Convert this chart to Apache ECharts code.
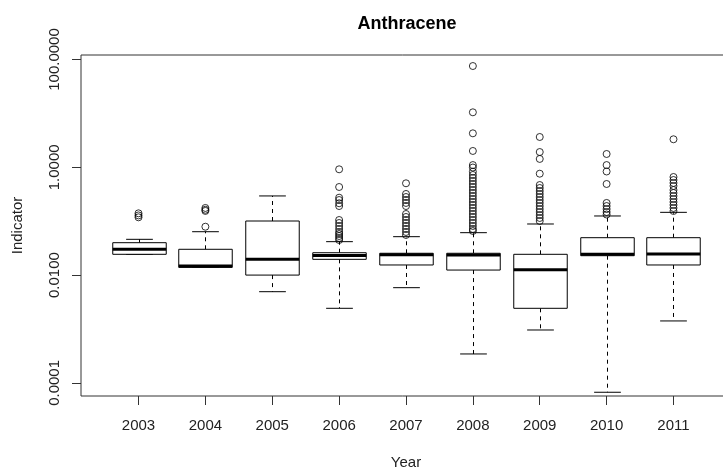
<!DOCTYPE html>
<html>
<head>
<meta charset="utf-8">
<script src="https://cdn.jsdelivr.net/npm/echarts@6/dist/echarts.min.js"></script>
<style>
  html, body { margin: 0; padding: 0; background: #fff; }
  #chart { width: 723px; height: 470px; }
</style>
</head>
<body>
<div id="chart"></div>
<script>
// Anthracene indicator by year — boxplot summaries (log scale)
const years = ['2003', '2004', '2005', '2006', '2007', '2008', '2009', '2010', '2011'];

const whiskerLow  = [0.0243, 0.0139, 0.00492, 0.00242, 0.00584, 0.000344, 0.000958, 0.0000670, 0.00141];
const quartile1   = [0.0243, 0.0139, 0.0100,  0.0196,  0.0154,  0.0124,   0.00242,  0.0229,    0.0154];
const medians     = [0.0301, 0.0148, 0.0197,  0.0231,  0.0238,  0.0236,   0.0126,   0.0243,    0.0246];
const quartile3   = [0.0399, 0.0301, 0.1008,  0.0260,  0.0254,  0.0254,   0.0243,   0.0494,    0.0494];
const whiskerHigh = [0.0461, 0.0638, 0.294,   0.0417,  0.0516,  0.0612,   0.0887,   0.125,     0.146];

const outliers2003 = [0.140, 0.128, 0.118];
const outliers2004 = [0.176, 0.163, 0.155, 0.079];
const outliers2005 = [];
const outliers2006 = [0.918, 0.431, 0.273, 0.247, 0.215, 0.191,
  0.1052, 0.0926, 0.0815, 0.0717, 0.0631, 0.0579, 0.0531, 0.0488, 0.0448];
const outliers2007 = [0.505, 0.320, 0.281, 0.247, 0.218, 0.191,
  0.136, 0.1197, 0.1052, 0.0926, 0.0815, 0.0717, 0.0631, 0.0555];
const outliers2008 = [75.7, 10.48, 4.27, 2.01, 1.10, 0.99, 0.83,
  0.720, 0.633, 0.557, 0.490, 0.431, 0.379, 0.334, 0.2935, 0.258, 0.227,
  0.200, 0.176, 0.1546, 0.136, 0.1197, 0.1052, 0.0926, 0.0815, 0.0717, 0.0658];
const outliers2009 = [3.65, 1.92, 1.43, 0.761,
  0.469, 0.413, 0.363, 0.3197, 0.281, 0.247, 0.218, 0.191, 0.168, 0.148, 0.130, 0.1147, 0.1009];
const outliers2010 = [1.765, 1.10, 0.836, 0.490, 0.218, 0.191, 0.168, 0.148, 0.133];
const outliers2011 = [3.31, 0.661, 0.581, 0.512, 0.450, 0.379, 0.334, 0.2935,
  0.258, 0.227, 0.200, 0.176, 0.1546];

const outlierGroups = [outliers2003, outliers2004, outliers2005, outliers2006, outliers2007,
  outliers2008, outliers2009, outliers2010, outliers2011];

const yTicks = [0.0001, 0.01, 1, 100];

const FONT = 'Liberation Sans, Arial, sans-serif';

const boxData = years.map((y, i) => [i + 1, whiskerLow[i], quartile1[i], medians[i], quartile3[i], whiskerHigh[i]]);
const outlierData = [];
outlierGroups.forEach((arr, i) => arr.forEach(v => outlierData.push([i + 1, v])));

function renderBox(params, api) {
  const x = api.value(0);
  const pLow = api.coord([x, api.value(1)]);
  const pQ1 = api.coord([x, api.value(2)]);
  const pMed = api.coord([x, api.value(3)]);
  const pQ3 = api.coord([x, api.value(4)]);
  const pHigh = api.coord([x, api.value(5)]);
  const unit = api.coord([x + 1, api.value(3)])[0] - pMed[0];
  const half = unit * 0.4;
  const cap = unit * 0.2;
  const cx = Math.round(pMed[0]) + 0.5;
  const stroke = { stroke: '#000', lineWidth: 1 };
  const dashed = { stroke: '#000', lineWidth: 1, lineDash: [4, 4] };
  return {
    type: 'group',
    children: [
      { type: 'line', shape: { x1: cx, y1: pQ1[1], x2: cx, y2: pLow[1] }, style: dashed },
      { type: 'line', shape: { x1: cx, y1: pQ3[1], x2: cx, y2: pHigh[1] }, style: dashed },
      { type: 'line', shape: { x1: cx - cap, y1: pLow[1], x2: cx + cap, y2: pLow[1] }, style: stroke },
      { type: 'line', shape: { x1: cx - cap, y1: pHigh[1], x2: cx + cap, y2: pHigh[1] }, style: stroke },
      { type: 'rect', shape: { x: cx - half, y: pQ3[1], width: half * 2, height: pQ1[1] - pQ3[1] },
        style: { fill: '#fff', stroke: '#000', lineWidth: 1 } },
      { type: 'line', shape: { x1: cx - half, y1: pMed[1], x2: cx + half, y2: pMed[1] },
        style: { stroke: '#000', lineWidth: 3 } }
    ]
  };
}

const chart = echarts.init(document.getElementById('chart'), null, { renderer: 'canvas' });
chart.setOption({
  animation: false,
  backgroundColor: '#fff',
  title: {
    text: 'Anthracene',
    left: 402,
    top: 10,
    textAlign: 'center',
    textStyle: { fontFamily: FONT, fontSize: 18, fontWeight: 'bold', color: '#000' }
  },
  grid: {
    left: 81, top: 55, width: 650, height: 341,
    outerBoundsMode: 'none',
    containLabel: false,
    show: true, borderColor: '#333', borderWidth: 1, backgroundColor: 'transparent'
  },
  xAxis: {
    type: 'value',
    min: 0.14,
    max: 9.86,
    name: 'Year',
    nameLocation: 'middle',
    nameGap: 59,
    nameTextStyle: { fontFamily: FONT, fontSize: 15, color: '#222', verticalAlign: 'top' },
    axisLine: { show: false },
    splitLine: { show: false },
    axisTick: { show: true, length: 9, customValues: years.map((y, i) => i + 1), lineStyle: { color: '#333' } },
    axisLabel: {
      customValues: years.map((y, i) => i + 1),
      formatter: v => years[Math.round(v) - 1],
      fontFamily: FONT, fontSize: 15, color: '#222', margin: 22
    }
  },
  yAxis: {
    type: 'log',
    logBase: 10,
    min: 5.71e-5,
    max: 121.2,
    name: 'Indicator',
    nameLocation: 'middle',
    nameGap: 56,
    nameTextStyle: { fontFamily: FONT, fontSize: 15, color: '#222' },
    axisLine: { show: false },
    splitLine: { show: false },
    axisTick: { show: true, length: 9, customValues: yTicks, lineStyle: { color: '#333' } },
    axisLabel: {
      customValues: yTicks,
      rotate: 90,
      formatter: v => Number(v).toFixed(4),
      fontFamily: FONT, fontSize: 15, color: '#222', margin: 19
    }
  },
  series: [
    {
      type: 'custom',
      renderItem: renderBox,
      data: boxData,
      encode: { x: 0, y: [1, 2, 3, 4, 5] },
      clip: false,
      z: 2
    },
    {
      type: 'scatter',
      data: outlierData,
      symbol: 'circle',
      symbolSize: 7,
      itemStyle: { color: 'rgba(0,0,0,0)', borderColor: '#000', borderWidth: 1 },
      z: 3
    }
  ]
});
</script>
</body>
</html>
